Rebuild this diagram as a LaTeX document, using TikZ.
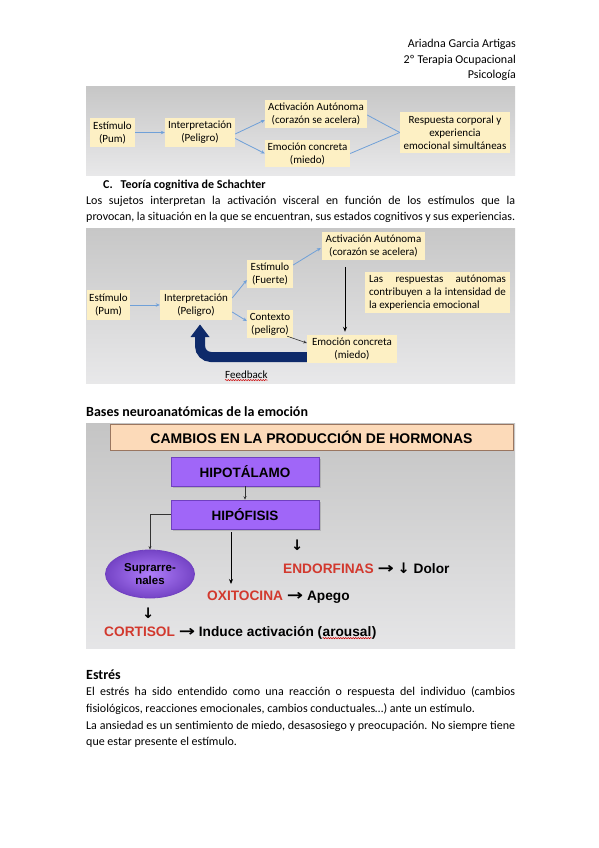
\documentclass[tikz,border=0pt]{standalone}
\usepackage{fontspec}
\setmainfont{Carlito}
\newfontfamily\arialf{Liberation Sans}
\newfontfamily\dejavu{DejaVu Sans}
\usetikzlibrary{shadows,decorations.pathmorphing,arrows.meta,calc,shapes.geometric}
\definecolor{boxyel}{HTML}{FDF0C4}
\definecolor{arrblue}{HTML}{6FA0D8}
\definecolor{navyc}{HTML}{0E2A6A}
\definecolor{purp}{HTML}{A066F8}
\definecolor{purpd}{HTML}{7040C0}
\definecolor{hred}{HTML}{D2392E}
\definecolor{peach}{HTML}{FCDAB9}
\definecolor{peachd}{HTML}{9A7660}
\newcommand\rarr{{\dejavu\bfseries\fontsize{15}{15}\selectfont\scalebox{1.3}[1]{→}}}
\newcommand\darr{{\dejavu\bfseries\fontsize{14.5}{14.5}\selectfont ↓}}
\tikzset{
  ybox/.style={fill=boxyel, inner sep=0pt, align=center, font=\fontsize{11}{13}\selectfont},
  barr/.style={draw=arrblue, line width=0.8pt, -{Stealth[length=4pt,width=3.5pt]}},
  bline/.style={draw=arrblue, line width=0.8pt},
  blk/.style={draw=black, line width=0.9pt, -{Stealth[length=5pt,width=4pt]}},
  thinblk/.style={draw=black!80, line width=0.6pt, -{Stealth[length=3.5pt,width=3pt]}},
  bgbox/.style={draw=none, top color=black!22, bottom color=blue!6!black!9},
  ptxt/.style={anchor=west, inner sep=0pt, font=\fontsize{12}{14}\selectfont},
  pbox/.style={draw=purpd, fill=purp, line width=0.6pt, drop shadow={opacity=0.35,shadow xshift=1.5pt,shadow yshift=-1.5pt}, font=\arialf\bfseries\fontsize{13.5}{15}\selectfont, inner sep=0pt},
  htxt/.style={anchor=west, inner sep=0pt, font=\arialf\bfseries\fontsize{13.7}{15}\selectfont},
  wavy/.style={draw=red!80!black, line width=0.5pt, decorate, decoration={snake, amplitude=0.6pt, segment length=2.5pt}}
}
\begin{document}
\begin{tikzpicture}[x=1pt,y=-1pt]
\useasboundingbox (0,0) rectangle (599,848);
\fill[white] (0,0) rectangle (599,848);

% header
\node[ptxt, anchor=east] (h1) at (516,44) {Ariadna Garcia Artigas};
\node[ptxt, anchor=east] (h2) at (516,60) {2º Terapia Ocupacional};
\node[ptxt, anchor=east] (h3) at (516,75) {Psicología};

% ---------- diagram 1 ----------
\shade[bgbox] (86,87) rectangle (515,175);
\node[ybox, minimum width=45pt, minimum height=29pt] (e1) at (112.5,132.5) {Estímulo\\(Pum)};
\node[ybox, minimum width=70pt, minimum height=29pt] (i1) at (200,132.5) {Interpretación\\(Peligro)};
\node[ybox, minimum width=102pt, minimum height=28pt] (a1) at (316,114) {Activación Autónoma\\(corazón se acelera)};
\node[ybox, minimum width=85pt, minimum height=27pt] (m1) at (307.5,153.5) {Emoción concreta\\(miedo)};
\node[ybox, minimum width=110pt, minimum height=41pt] (r1) at (455,132.5) {Respuesta corporal y\\experiencia\\emocional simultáneas};
\draw[barr] (e1.east) -- (i1.west);
\draw[barr] ([yshift=-1.5pt]i1.east) -- ([yshift=-6pt]a1.west);
\draw[barr] ([yshift=-6pt]i1.east) -- (m1.west);
\draw[bline] ([yshift=-1pt]a1.east) -- (r1.west);
\draw[bline] ([yshift=0pt]m1.east) -- (r1.west);

% heading C
\node[ptxt, font=\bfseries\fontsize{12}{14}\selectfont] (hc) at (103,185) {C.\hspace{8pt}Teoría cognitiva de Schachter};
\node[ptxt] (p1) at (86,201) {\makebox[429pt][s]{Los sujetos interpretan la activación visceral en función de los estímulos que la}};
\node[ptxt] (p2) at (86,217) {\makebox[429pt][s]{provocan, la situación en la que se encuentran, sus estados cognitivos y sus experiencias.}};

% ---------- diagram 2 ----------
\shade[bgbox] (86,228) rectangle (515,383);
\node[ybox, minimum width=43pt, minimum height=30pt] (e2) at (108.5,305) {Estímulo\\(Pum)};
\node[ybox, minimum width=72pt, minimum height=30pt] (i2) at (196,305) {Interpretación\\(Peligro)};
\node[ybox, minimum width=46pt, minimum height=28pt] (f2) at (270,274) {Estímulo\\(Fuerte)};
\node[ybox, minimum width=103pt, minimum height=28pt] (a2) at (373.5,246) {Activación Autónoma\\(corazón se acelera)};
\node[ybox, minimum width=46pt, minimum height=28pt] (c2) at (270,324) {Contexto\\(peligro)};
\node[ybox, minimum width=90pt, minimum height=28pt] (m2) at (352,349) {Emoción concreta\\(miedo)};
\node[ybox, minimum width=145pt, minimum height=41pt, align=left] (t2) at (437.5,292.5) {\makebox[137pt][s]{Las respuestas autónomas}\\\makebox[137pt][s]{contribuyen a la intensidad de}\\la experiencia emocional};
\draw[barr] (e2.east) -- (i2.west);
\draw[barr] ([yshift=7pt]i2.east) -- ([yshift=-6pt]f2.west);
\draw[barr] ([yshift=-7pt]i2.east) -- ([yshift=3pt]c2.west);
\draw[barr] ([yshift=9pt]f2.east) -- ([yshift=-2pt,xshift=-1pt]a2.west);
\draw[blk] ([xshift=-28.5pt,yshift=-7pt]a2.south) -- ([xshift=-7pt,yshift=3pt]m2.north);
\draw[thinblk] ([xshift=-6pt,yshift=2pt]c2.south east) -- ([yshift=6pt]m2.west);
% feedback arrow
\coordinate (fbturn) at (200,357);
\draw[navyc, line width=10pt, rounded corners=11pt] ([yshift=-8pt]m2.west) -- (fbturn) -- (200,336);
\fill[navyc] (190.5,337) -- (200,324.5) -- (209.5,337) -- cycle;
\node[ptxt, font=\fontsize{11}{13}\selectfont] (fb) at (225,375) {Feedback};
\draw[wavy] ([yshift=-1pt]fb.south west) -- ([yshift=-1pt]fb.south east);

% heading bases
\node[ptxt, font=\bfseries\fontsize{14}{16}\selectfont] (hb) at (86,412) {Bases neuroanatómicas de la emoción};

% ---------- diagram 3 ----------
\shade[draw=none, top color=black!23, middle color=black!19, bottom color=blue!6!black!10] (86,423) rectangle (515,648);
\node[draw=peachd, fill=peach, line width=0.8pt, minimum width=403pt, minimum height=26pt, inner sep=0pt, font=\arialf\bfseries\fontsize{14}{16}\selectfont] (t3) at (311.5,437) {CAMBIOS EN LA PRODUCCIÓN DE HORMONAS};
\node[pbox, minimum width=148pt, minimum height=29pt] (hip) at (245,471.5) {HIPOTÁLAMO};
\node[pbox, minimum width=148pt, minimum height=29pt] (hipo) at (245,514.5) {HIPÓFISIS};
\node[ellipse, draw=purpd, line width=0.8pt, inner color=purp!85!white, outer color=purpd!90!purp, minimum width=89pt, minimum height=48pt, inner sep=0pt, align=center, font=\arialf\bfseries\fontsize{11.5}{13}\selectfont] (supr) at (150,574) {Suprarre-\\nales};
\draw[thinblk] (hip.south) -- (hipo.north);
\draw[thinblk] (hipo.west) -| (supr.north);
\coordinate (oxtop) at (231,584);
\draw[blk] ([xshift=-14pt,yshift=-3pt]hipo.south) -- (oxtop);
\node[htxt] (d1) at (291,545) {\darr};
\node[htxt] (endo) at (283,568) {\textcolor{hred}{ENDORFINAS} \rarr\ \darr\ Dolor};
\node[htxt] (oxi) at (207,597) {\textcolor{hred}{OXITOCINA} \rarr\ Apego};
\node[htxt] (d2) at (142,613) {\darr};
\node[htxt] (cort) at (104,633) {\textcolor{hred}{CORTISOL} \rarr\ Induce activación (};
\node[htxt, anchor=base west] (arou) at (cort.base east) {arousal};
\node[htxt, anchor=base west] (cpar) at (arou.base east) {)};
\draw[wavy] ([yshift=-1.5pt]arou.base west) -- ([yshift=-1.5pt]arou.base east);

% ---------- Estrés ----------
\node[ptxt, font=\bfseries\fontsize{14}{16}\selectfont] (he) at (86,675) {Estrés};
\node[ptxt] (s1) at (86,692) {\makebox[429pt][s]{El estrés ha sido entendido como una reacción o respuesta del individuo (cambios}};
\node[ptxt] (s2) at (86,709) {fisiológicos, reacciones emocionales, cambios conductuales…) ante un estímulo.};
\node[ptxt] (s3) at (86,726) {\makebox[429pt][s]{La ansiedad es un sentimiento de miedo, desasosiego y preocupación. No siempre tiene}};
\node[ptxt] (s4) at (86,742) {que estar presente el estímulo.};
\end{tikzpicture}
\end{document}
